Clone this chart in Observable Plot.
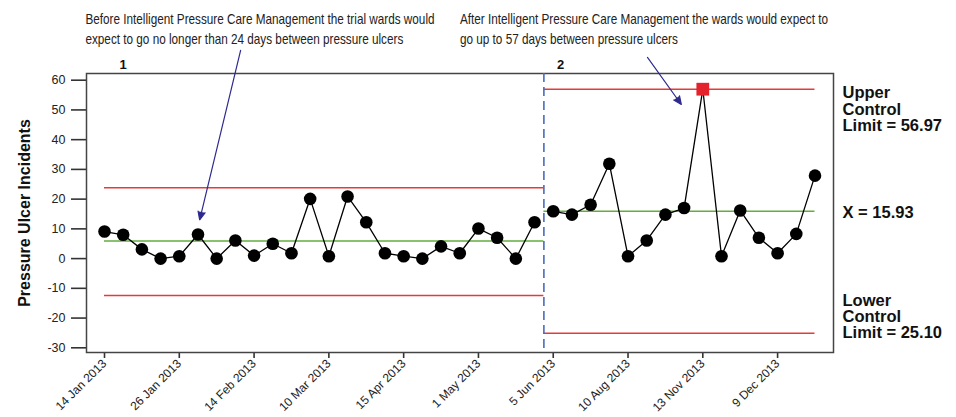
<!DOCTYPE html>
<html>
<head>
<meta charset="utf-8">
<script src="https://cdn.jsdelivr.net/npm/d3@7"></script>
<script src="https://cdn.jsdelivr.net/npm/@observablehq/plot@0.6"></script>
<style>
  html, body { margin: 0; padding: 0; background: #fff; }
  #chart svg { display: block; }
</style>
</head>
<body>
<div id="chart"></div>
<script>
// ---- data ----
const phase1Values = [9.1, 8.0, 3.1, 0, 0.8, 8.1, 0, 6.1, 1.0, 5.0, 1.8, 20.1, 0.8, 20.9, 12.2, 1.8, 0.8, 0, 4.1, 1.8, 10.1, 7.0, 0, 12.2];
const phase2Values = [15.9, 14.8, 18.1, 31.9, 0.8, 6.1, 14.8, 17.0, 56.97, 0.8, 16.2, 7.0, 1.8, 8.3, 27.9];
const phase1Limits = {ucl: 23.8, mean: 5.9, lcl: -12.4};
const phase2Limits = {ucl: 56.97, mean: 15.93, lcl: -25.10};
const xTickIndex = [0, 4, 8, 12, 16, 20, 24, 28, 32, 36];
const xTickLabels = ["14 Jan 2013", "26 Jan 2013", "14 Feb 2013", "10 Mar 2013", "15 Apr 2013", "1 May 2013", "5 Jun 2013", "10 Aug 2013", "13 Nov 2013", "9 Dec 2013"];
const yTicks = [60, 50, 40, 30, 20, 10, 0, -10, -20, -30];
const phaseNames = ["1", "2"];
const annotationTexts = [
  "Before Intelligent Pressure Care Management the trial wards would\nexpect to go no longer than 24 days between pressure ulcers",
  "After Intelligent Pressure Care Management the wards would expect to\ngo up to 57 days between pressure ulcers"
];
const annotationX = [-1.02, 19.01];
const annotationY = [77.7, 77.7];
const arrowFrom = [[7.28, 70.0], [29.04, 67.64]];
const arrowTo = [[5.09, 13.05], [30.85, 51.83]];
const sideTexts = ["Upper\nControl\nLimit = 56.97", "X = 15.93", "Lower\nControl\nLimit = 25.10"];
const sideY = [50.15, 15.27, -19.5];
const sideX = 39.47;

// ---- derived tables ----
const n1 = phase1Values.length;
const rows = [
  ...phase1Values.map((v, k) => ({i: k, v, phase: 1})),
  ...phase2Values.map((v, k) => ({i: n1 + k, v, phase: 2}))
];
const boundary = n1 - 0.5;
const limits = [
  {x1: 0, x2: boundary, ...phase1Limits},
  {x1: boundary, x2: n1 + phase2Values.length - 1, ...phase2Limits}
];
const isOut = d => d.v >= limits[d.phase - 1].ucl - 0.01;
const phaseLabels = phaseNames.map((t, k) => ({t, x: k === 0 ? 1.0 : n1 + 0.4, y: 65.3}));
const annotations = annotationTexts.map((t, k) => ({t, x: annotationX[k], y: annotationY[k]}));
const arrows = arrowFrom.map((a, k) => ({x1: a[0], y1: a[1], x2: arrowTo[k][0], y2: arrowTo[k][1]}));
const sides = sideTexts.map((t, k) => ({t, x: sideX, y: sideY[k]}));

const RED = "#e63a3a", GREEN = "#62ad3f", BLUE = "#4a6bbf", NAVY = "#2e2a8f";

const chart = Plot.plot({
  width: 956,
  height: 417,
  marginLeft: 86,
  marginRight: 123,
  marginTop: 73,
  marginBottom: 65,
  style: {fontFamily: "'Liberation Sans', Arial, sans-serif", fontSize: "12px", color: "#222", background: "#fff"},
  x: {domain: [-0.963, 38.99], axis: null},
  y: {domain: [-31.58, 62.25], axis: null},
  marks: [
    Plot.axisY(yTicks, {tickSize: 15, tickPadding: 6, strokeWidth: 1.6, stroke: "#333", tickFormat: d => String(d), fontSize: 12.5, label: null}),
    Plot.axisX(xTickIndex, {tickSize: 6, tickPadding: 3, strokeWidth: 1.6, stroke: "#333", tickRotate: -45, tickFormat: i => xTickLabels[xTickIndex.indexOf(i)], fontSize: 12, label: null}),
    Plot.frame({stroke: "#444", strokeWidth: 1.5}),
    Plot.ruleY(limits, {y: "ucl", x1: "x1", x2: "x2", stroke: RED, strokeWidth: 1.5}),
    Plot.ruleY(limits, {y: "lcl", x1: "x1", x2: "x2", stroke: RED, strokeWidth: 1.5}),
    Plot.ruleY(limits, {y: "mean", x1: "x1", x2: "x2", stroke: GREEN, strokeWidth: 1.5}),
    Plot.ruleX([boundary], {stroke: BLUE, strokeWidth: 1.6, strokeDasharray: "9,5"}),
    Plot.line(rows, {x: "i", y: "v", z: "phase", stroke: "black", strokeWidth: 1.3}),
    Plot.dot(rows.filter(d => !isOut(d)), {x: "i", y: "v", r: 6.3, fill: "black"}),
    Plot.dot(rows.filter(isOut), {x: "i", y: "v", r: 7.2, symbol: "square", fill: "#e3222b"}),
    Plot.arrow(arrows, {x1: "x1", y1: "y1", x2: "x2", y2: "y2", stroke: NAVY, strokeWidth: 1.2, headLength: 11, headAngle: 48}),
    Plot.text(annotations, {x: "x", y: "y", text: "t", textAnchor: "start", lineAnchor: "middle", fontSize: 14, lineHeight: 1.43, fill: "#222"}),
    Plot.text(phaseLabels, {x: "x", y: "y", text: "t", fontWeight: "bold", fontSize: 13, fill: "#111"}),
    Plot.text(sides, {x: "x", y: "y", text: "t", textAnchor: "start", fontWeight: "bold", fontSize: 16.5, lineHeight: 0.98, fill: "#111"}),
    Plot.text(["Pressure Ulcer Incidents"], {frameAnchor: "left", dx: -62, rotate: -90, textAnchor: "middle", fontWeight: "bold", fontSize: 16, fill: "#111"})
  ]
});
document.getElementById("chart").appendChild(chart);

// condense the annotation text horizontally (no narrow font installed)
d3.select(chart).selectAll("text").filter(function () {
  const s = this.textContent;
  return s.startsWith("Before Intelligent") || s.startsWith("After Intelligent");
}).each(function () {
  const t = d3.select(this);
  const x = +t.attr("x") || 0, y = +t.attr("y") || 0;
  const tr = t.attr("transform") || "";
  t.attr("x", null).attr("y", null)
   .attr("transform", `${tr} translate(${x},${y}) scale(0.84,1)`);
});
// filled arrowheads: find the arrow mark's group by its stroke colour
d3.select(chart).selectAll("g").filter(function () {
  return (this.getAttribute("stroke") || "").toLowerCase() === NAVY;
}).each(function () {
  d3.select(this).attr("fill", NAVY).attr("stroke-linejoin", "miter")
    .selectAll("path").attr("fill", NAVY).style("fill", NAVY);
});
</script>
</body>
</html>
